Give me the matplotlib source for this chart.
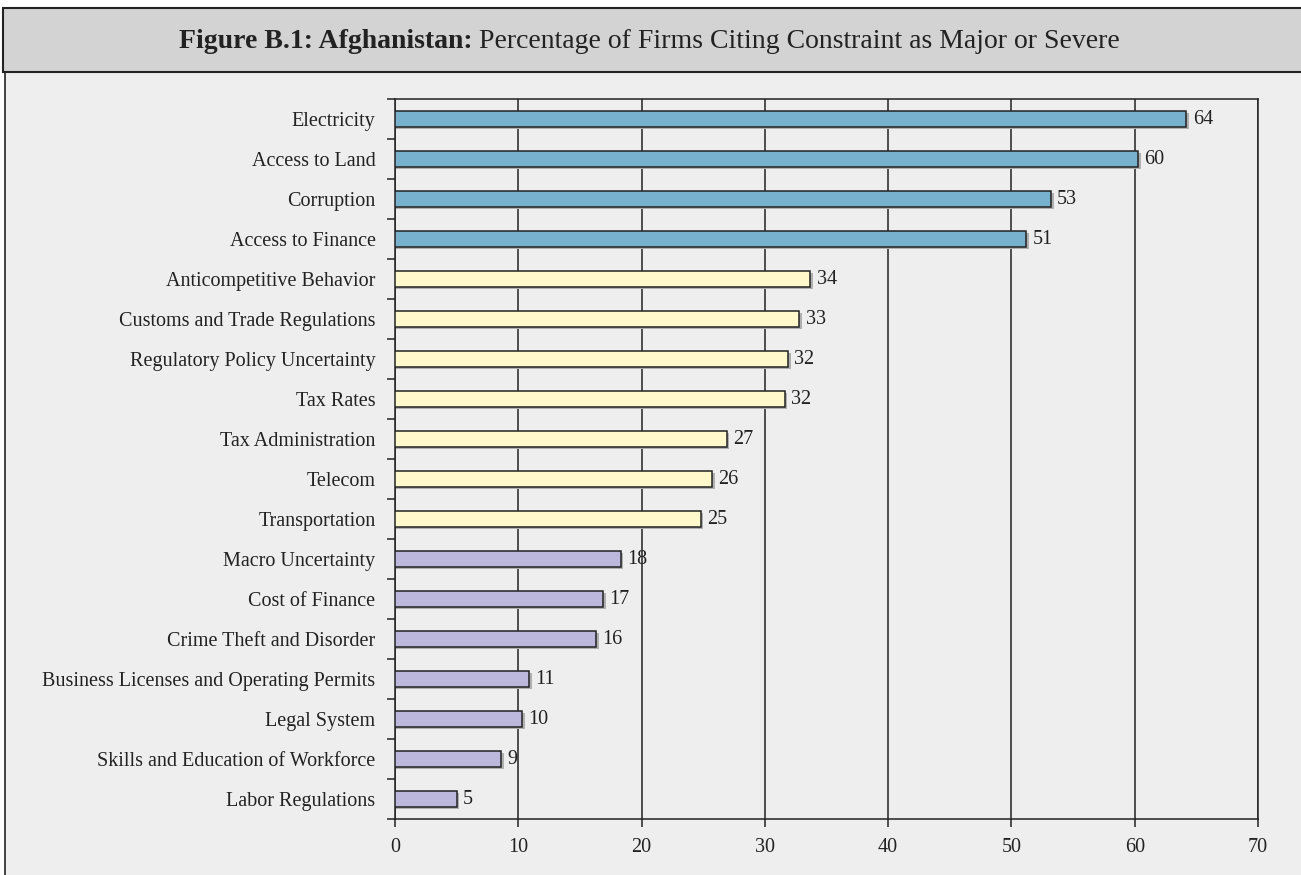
import matplotlib.pyplot as plt
from matplotlib.patches import Rectangle

# Constraints, ordered top to bottom
constraints = [
    "Electricity", "Access to Land", "Corruption", "Access to Finance",
    "Anticompetitive Behavior", "Customs and Trade Regulations",
    "Regulatory Policy Uncertainty", "Tax Rates", "Tax Administration",
    "Telecom", "Transportation", "Macro Uncertainty", "Cost of Finance",
    "Crime Theft and Disorder", "Business Licenses and Operating Permits",
    "Legal System", "Skills and Education of Workforce", "Labor Regulations",
]
values = [64.2, 60.3, 53.2, 51.2, 33.7, 32.8, 31.9, 31.6, 26.9, 25.7, 24.8,
          18.3, 16.9, 16.3, 10.9, 10.3, 8.6, 5.0]
labels = [64, 60, 53, 51, 34, 33, 32, 32, 27, 26, 25, 18, 17, 16, 11, 10, 9, 5]
groups = [0] * 4 + [1] * 7 + [2] * 7
group_colors = ["#77b1cd", "#fff9cb", "#bcb7dc"]
xticks = [0, 10, 20, 30, 40, 50, 60, 70]

plt.rcParams["font.family"] = ["Liberation Serif", "DejaVu Serif"]
W, H = 13.01, 8.75
fig = plt.figure(figsize=(W, H), dpi=100)
fig.patch.set_facecolor("white")


def fx(px):
    return px / 1301


def fy(py):
    return 1 - py / 875


# panel background below header
fig.patches.append(Rectangle((fx(5), -0.05), 1, fy(72) + 0.05, transform=fig.transFigure,
                             facecolor="#eeeeee", edgecolor="#222222", lw=1.2, zorder=-2))
# header box
fig.patches.append(Rectangle((fx(3), fy(72)), 1.2, fy(8) - fy(72), transform=fig.transFigure,
                             facecolor="#d3d3d3", edgecolor="#222222", lw=1.5, zorder=-1))

t1 = fig.text(fx(179), fy(41), "Figure B.1: Afghanistan:", fontsize=20, fontweight="bold",
              ha="left", va="center", color="#222222")
fig.canvas.draw()
bb = t1.get_window_extent()
fig.text(bb.x1 / fig.dpi / W + 0.005, fy(41), "Percentage of Firms Citing Constraint as Major or Severe",
         fontsize=20, ha="left", va="center", color="#222222")

ax = fig.add_axes([fx(395), fy(819), fx(1258) - fx(395), fy(99) - fy(819)])
ax.set_facecolor("#eeeeee")
n = len(constraints)
ypos = list(range(n))
colors = [group_colors[g] for g in groups]

# subtle shadow then bars
ax.barh([y + 0.06 for y in ypos], [v + 0.12 for v in values], height=0.4, color="#b0b0b0",
        zorder=2, left=0.1)
ax.barh(ypos, values, height=0.4, color=colors, edgecolor="#222222", linewidth=1.1, zorder=3)
for y, v, lab in zip(ypos, values, labels):
    ax.text(v + 0.5, y, str(lab), va="center", ha="left", fontsize=14.5, color="#222222", zorder=4)

ax.set_ylim(n - 0.5, -0.5)
ax.set_xlim(0, 70)
ax.set_xticks(xticks)
ax.set_xticklabels([str(t) for t in xticks], fontsize=14.5, color="#222222")
ax.set_yticks(ypos)
ax.set_yticklabels(constraints, fontsize=14.5, color="#222222")
ax.tick_params(axis="y", length=0, pad=14)
ax.tick_params(axis="x", length=6, width=1.1, color="#222222", pad=8)
# y ticks at category boundaries
ax.set_yticks([y + 0.5 for y in range(-1, n)], minor=True)
ax.tick_params(axis="y", which="minor", length=6, width=1.1, color="#222222")
ax.grid(axis="x", color="#222222", linewidth=1.1, zorder=1)
ax.set_axisbelow(True)
for s in ax.spines.values():
    s.set_color("#222222")
    s.set_linewidth(1.1)

fig.savefig("out.png", dpi=100)
